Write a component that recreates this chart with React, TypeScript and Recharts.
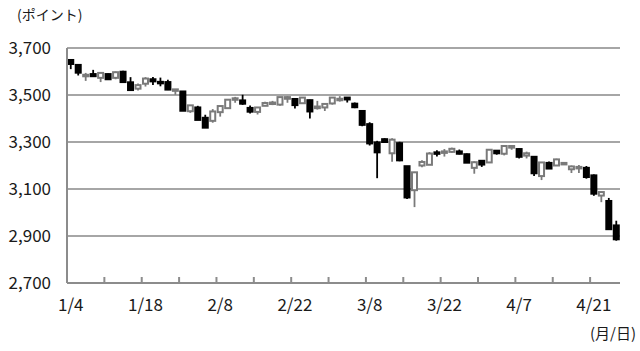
import React from 'react';
import { ComposedChart, Bar, XAxis, YAxis, CartesianGrid } from 'recharts';

const dates = [
  '1/4','1/5','1/6','1/7','1/10','1/11','1/12','1/13','1/14','1/17','1/18','1/19','1/20','1/21','1/24','1/25','1/26','1/27','1/28',
  '2/7','2/8','2/9','2/10','2/11','2/14','2/15','2/16','2/17','2/18','2/21','2/22','2/23','2/24','2/25','2/28',
  '3/1','3/2','3/3','3/4','3/7','3/8','3/9','3/10','3/11','3/14','3/15','3/16','3/17','3/18','3/21','3/22','3/23','3/24','3/25','3/28','3/29','3/30','3/31',
  '4/1','4/6','4/7','4/8','4/11','4/12','4/13','4/14','4/15','4/18','4/19','4/20','4/21','4/22','4/25','4/26',
];

const opens = [
  3649,3628,3581,3589,3573,3589,3573,3599,3554,3527,3548,3567,3556,3555,3518,3515,3431,3447,3403,
  3390,3427,3444,3480,3477,3445,3428,3454,3465,3459,3484,3483,3465,3478,3444,3447,
  3464,3481,3489,3463,3432,3376,3298,3312,3252,3295,3197,3095,3200,3203,3256,3255,3258,3260,3248,3190,3220,3213,3263,
  3250,3276,3270,3242,3237,3155,3211,3200,3210,3184,3190,3190,3158,3072,3049,2945,
];
const highs = [
  3652,3628,3594,3607,3594,3591,3600,3603,3576,3549,3576,3577,3574,3565,3525,3517,3456,3454,3416,
  3440,3454,3482,3492,3501,3455,3447,3471,3475,3491,3495,3485,3490,3480,3475,3462,
  3489,3495,3491,3468,3436,3384,3305,3316,3316,3301,3198,3173,3222,3257,3265,3270,3276,3268,3251,3218,3222,3268,3265,
  3284,3286,3273,3259,3239,3214,3217,3229,3215,3200,3202,3198,3162,3088,3062,2965,
];
const lows = [
  3610,3583,3560,3578,3555,3564,3567,3555,3517,3519,3536,3543,3537,3521,3501,3432,3424,3394,3361,
  3382,3408,3441,3467,3458,3421,3417,3453,3457,3454,3467,3443,3464,3400,3438,3432,
  3459,3472,3468,3444,3367,3285,3146,3296,3216,3218,3057,3023,3193,3203,3238,3238,3254,3247,3212,3165,3194,3213,3246,
  3243,3267,3230,3230,3155,3138,3186,3198,3204,3168,3168,3144,3071,3044,2928,2880,
];
const closes = [
  3632,3595,3586,3580,3594,3567,3597,3555,3521,3542,3570,3558,3555,3523,3524,3433,3456,3394,3361,
  3430,3453,3480,3486,3463,3429,3447,3466,3468,3491,3491,3457,3489,3430,3451,3462,
  3489,3484,3481,3448,3373,3294,3256,3300,3310,3222,3064,3171,3215,3251,3252,3260,3271,3250,3212,3214,3204,3267,3252,
  3283,3283,3237,3252,3167,3213,3187,3226,3211,3196,3194,3151,3080,3087,2929,2886,
];

const yTicks = [2700, 2900, 3100, 3300, 3500, 3700];

const rows = dates.map((d, i) => ({
  date: d,
  open: opens[i],
  high: highs[i],
  low: lows[i],
  close: closes[i],
  range: [lows[i], highs[i]],
}));

const FONT = "'Noto Sans CJK JP', 'Noto Sans', sans-serif";
const AXIS = '#8c8c8c';
const GRID = '#a6a6a6';
const UP = '#7a7a7a';
const TEXT = '#1a1a1a';

const Candle = (props: any) => {
  const { x, y, width, height, payload } = props;
  if (x == null || y == null) return null;
  const top = Math.min(y, y + height);
  const h = Math.abs(height);
  const { open, close, high, low } = payload;
  const cx = x + width / 2;
  const ratio = high - low > 0 ? h / (high - low) : 0;
  const yOpen = top + (high - open) * ratio;
  const yClose = top + (high - close) * ratio;
  const up = close > open;
  const color = up ? UP : '#000';
  const bTop = Math.min(yOpen, yClose);
  const bh = Math.max(Math.abs(yOpen - yClose), 1.5);
  return (
    <g>
      <line x1={cx} x2={cx} y1={top} y2={top + h} stroke={color} strokeWidth={1.8} />
      <rect x={cx - 2.5} y={bTop} width={5} height={bh} fill={up ? '#fff' : '#000'} stroke={color} strokeWidth={2} />
    </g>
  );
};

const XTick = (props: any) => {
  const { x, y, payload } = props;
  const idx = dates.indexOf(payload.value);
  const band = 553 / dates.length;
  const bx = x - band / 2;
  return (
    <g>
      <line x1={bx} x2={bx} y1={y} y2={y - 6} stroke={AXIS} strokeWidth={2} />
      {idx % 10 === 0 && (
        <text x={x} y={y + 28} textAnchor="middle" fill={TEXT} fontSize={17} fontFamily={FONT}>
          {payload.value}
        </text>
      )}
    </g>
  );
};

export default function App() {
  return (
    <div style={{ position: 'absolute', left: 0, top: 0, width: 640, height: 351, background: '#fff', fontFamily: FONT }}>
      <ComposedChart width={640} height={351} data={rows} margin={{ top: 48, right: 20, bottom: 28, left: 0 }}>
        <CartesianGrid vertical={false} stroke={GRID} strokeWidth={2} />
        <XAxis
          dataKey="date"
          interval={4}
          tickLine={false}
          tickSize={0}
          tickMargin={0}
          height={40}
          axisLine={{ stroke: AXIS, strokeWidth: 2 }}
          tick={<XTick />}
        />
        <YAxis
          domain={[2700, 3700]}
          ticks={yTicks}
          width={67}
          tickLine={false}
          tickMargin={10}
          axisLine={{ stroke: AXIS, strokeWidth: 2 }}
          tick={{ fill: TEXT, fontSize: 17, fontFamily: FONT }}
          tickFormatter={(v: number) => v.toLocaleString('en-US')}
        />
        <Bar dataKey="range" isAnimationActive={false} shape={<Candle />} />
      </ComposedChart>
      <div style={{ position: 'absolute', left: 17, top: 4, fontSize: 14, color: TEXT, whiteSpace: 'nowrap' }}>(ポイント)</div>
      <div style={{ position: 'absolute', right: 4, top: 322, fontSize: 15, color: TEXT, whiteSpace: 'nowrap' }}>(月/日)</div>
    </div>
  );
}
